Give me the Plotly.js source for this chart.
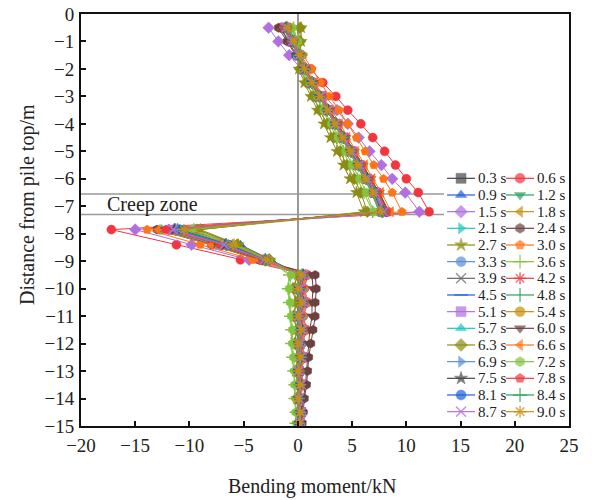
<!DOCTYPE html>
<html><head><meta charset="utf-8">
<script src="https://cdn.plot.ly/plotly-3.0.1.min.js"></script>
<style>html,body{margin:0;padding:0;background:#fff}#chart{width:592px;height:500px}</style>
</head><body><div id="chart"></div>
<script>
// Depth below pile top (m)
const depth = [-0.5,-1,-1.5,-2,-2.5,-3,-3.5,-4,-4.5,-5,-5.5,-6,-6.5,-7.2,-7.85,-8.4,-8.95,-9.5,-10,-10.5,-11,-11.5,-12,-12.5,-13,-13.5,-14,-14.5,-14.9];
const timeLabels = ['0.3 s','0.6 s','0.9 s','1.2 s','1.5 s','1.8 s','2.1 s','2.4 s','2.7 s','3.0 s','3.3 s','3.6 s','3.9 s','4.2 s','4.5 s','4.8 s','5.1 s','5.4 s','5.7 s','6.0 s','6.3 s','6.6 s','6.9 s','7.2 s','7.5 s','7.8 s','8.1 s','8.4 s','8.7 s','9.0 s'];
const xTicks = [-20,-15,-10,-5,0,5,10,15,20,25];
const yTicks = [0,-1,-2,-3,-4,-5,-6,-7,-8,-9,-10,-11,-12,-13,-14,-15];
const creepTop = -6.55, creepBottom = -7.3;

// Bending moment (kN) per time step
const m03 = [-1.2,-0.5,0.0,0.5,1.2,1.9,2.7,3.4,4.1,4.8,5.5,6.3,7.0,7.8,-11.2,-6.9,-3.1,0.5,0.2,0.5,0.1,0.4,0.2,0.4,0.1,0.3,0.2,0.3,0.2];
const m06 = [-1.6,-0.8,0.2,1.2,2.3,3.5,4.6,5.8,6.9,8.0,9.0,10.0,11.1,12.1,-17.2,-11.2,-5.3,0.9,0.6,0.9,0.5,0.8,0.4,0.6,0.3,0.5,0.2,0.4,0.3];
const m09 = [-1.0,-0.4,0.1,0.6,1.3,2.0,2.7,3.4,4.1,4.8,5.5,6.2,6.9,7.6,-10.4,-5.3,-2.5,0.3,-0.3,0.2,-0.2,0.1,-0.1,0.2,0.0,0.2,0.0,0.2,0.1];
const m12 = [-0.6,-0.1,0.3,0.7,1.4,2.1,2.7,3.4,4.1,4.8,5.5,6.2,6.8,7.5,-10.8,-6.2,-2.8,0.4,0.1,0.4,0.0,0.3,0.1,0.3,0.0,0.3,0.1,0.2,0.1];
const m15 = [-2.7,-1.8,-0.8,0.3,1.4,2.5,3.6,4.6,5.6,6.6,7.7,8.7,9.9,11.2,-15.0,-9.8,-4.5,0.7,0.5,0.8,0.4,0.7,0.3,0.6,0.3,0.5,0.2,0.4,0.2];
const m18 = [-0.9,-0.3,0.2,0.6,1.3,2.0,2.7,3.4,4.1,4.8,5.5,6.2,6.9,7.6,-9.2,-5.8,-2.9,0.2,-0.2,0.3,-0.1,0.2,0.0,0.3,0.1,0.2,0.0,0.2,0.1];
const m21 = [-1.3,-0.6,0.0,0.6,1.3,2.1,2.8,3.5,4.3,5.0,5.8,6.5,7.3,8.1,-12.4,-7.4,-3.3,0.6,0.3,0.6,0.2,0.5,0.2,0.4,0.1,0.3,0.1,0.3,0.2];
const m24 = [-1.8,-1.0,-0.2,0.6,1.4,2.1,2.9,3.7,4.4,5.2,6.0,6.7,7.5,8.4,-13.0,-8.0,-3.6,1.6,1.7,1.6,1.6,1.4,1.2,1.0,0.9,0.8,0.6,0.5,0.4];
const m27 = [0.3,0.3,0.2,0.1,0.6,1.2,1.8,2.4,3.0,3.6,4.2,4.8,5.4,6.1,-9.0,-5.5,-2.6,0.0,-0.5,-0.2,-0.4,-0.1,-0.3,0.0,-0.2,0.0,-0.1,0.1,0.0];
const m30 = [-1.4,-0.5,0.5,1.3,2.1,2.9,3.8,4.6,5.4,6.2,7.0,7.9,8.7,9.6,-13.9,-9.0,-4.2,0.8,0.6,0.9,0.5,0.7,0.4,0.6,0.3,0.4,0.2,0.3,0.2];
const m33 = [-0.8,-0.2,0.3,0.6,1.3,2.0,2.7,3.4,4.0,4.7,5.4,6.1,6.8,7.5,-10.6,-6.1,-2.9,0.3,0.0,0.3,-0.1,0.3,0.0,0.2,0.0,0.2,0.1,0.2,0.1];
const m36 = [-0.4,0.0,0.3,0.4,1.0,1.7,2.3,2.9,3.6,4.2,4.8,5.5,6.1,6.9,-9.6,-5.9,-2.7,-0.8,-0.9,-0.8,-0.7,-0.6,-0.6,-0.5,-0.4,-0.3,-0.3,-0.2,-0.2];
const m39 = [-1.1,-0.5,0.1,0.6,1.3,2.0,2.8,3.5,4.2,4.9,5.6,6.4,7.1,7.9,-11.6,-6.8,-3.1,0.5,0.2,0.5,0.1,0.4,0.2,0.4,0.1,0.3,0.1,0.3,0.2];
const m42 = [-1.2,-0.5,0.1,0.7,1.4,2.2,2.9,3.6,4.3,5.1,5.8,6.5,7.3,8.1,-11.9,-7.0,-3.2,0.5,0.3,0.6,0.2,0.5,0.2,0.4,0.1,0.3,0.2,0.3,0.2];
const m45 = [-0.9,-0.3,0.2,0.6,1.3,2.0,2.7,3.4,4.1,4.8,5.5,6.2,6.9,7.7,-10.9,-6.4,-2.9,0.4,0.0,0.4,0.0,0.3,0.0,0.3,0.0,0.2,0.0,0.2,0.1];
const m48 = [-1.0,-0.4,0.1,0.6,1.3,2.0,2.7,3.4,4.2,4.9,5.6,6.3,7.0,7.8,-11.3,-6.6,-3.0,0.4,0.1,0.4,0.0,0.3,0.1,0.3,0.1,0.2,0.1,0.2,0.1];
const m51 = [-1.2,-0.6,0.0,0.6,1.3,2.1,2.8,3.5,4.3,5.0,5.7,6.4,7.2,8.0,-11.7,-6.9,-3.1,0.5,0.3,0.5,0.2,0.4,0.2,0.4,0.1,0.3,0.1,0.3,0.2];
const m54 = [-1.0,-0.4,0.1,0.6,1.3,2.0,2.7,3.4,4.2,4.9,5.6,6.3,7.0,7.7,-11.0,-6.5,-3.0,0.5,0.2,0.4,0.1,0.4,0.1,0.3,0.1,0.3,0.1,0.2,0.2];
const m57 = [-1.4,-0.7,0.0,0.7,1.4,2.2,2.9,3.7,4.4,5.2,5.9,6.7,7.4,8.3,-12.6,-7.6,-3.4,0.7,0.4,0.7,0.3,0.6,0.3,0.5,0.2,0.4,0.2,0.3,0.2];
const m60 = [-1.6,-0.9,-0.1,0.6,1.4,2.1,2.9,3.7,4.4,5.2,6.0,6.7,7.5,8.3,-12.8,-7.8,-3.5,1.3,1.4,1.3,1.3,1.1,1.0,0.9,0.8,0.7,0.5,0.4,0.3];
const m63 = [0.2,0.2,0.2,0.2,0.8,1.4,2.0,2.7,3.3,3.9,4.5,5.2,5.8,6.4,-9.3,-5.6,-2.6,0.0,-0.4,-0.1,-0.4,-0.1,-0.3,0.0,-0.2,0.0,-0.1,0.1,0.0];
const m66 = [-1.3,-0.6,0.1,0.8,1.6,2.3,3.1,3.9,4.6,5.4,6.2,6.9,7.7,8.6,-12.9,-8.0,-3.6,0.7,0.4,0.7,0.3,0.6,0.3,0.5,0.2,0.4,0.2,0.3,0.2];
const m69 = [-0.9,-0.3,0.2,0.6,1.3,2.0,2.7,3.4,4.1,4.8,5.5,6.2,6.9,7.6,-10.7,-6.2,-2.8,0.3,0.0,0.3,-0.1,0.2,0.0,0.2,0.0,0.2,0.0,0.2,0.1];
const m72 = [-0.5,0.0,0.3,0.5,1.1,1.8,2.4,3.1,3.7,4.4,5.0,5.7,6.3,7.0,-9.8,-6.0,-2.7,-0.6,-0.8,-0.7,-0.6,-0.5,-0.5,-0.4,-0.3,-0.3,-0.2,-0.2,-0.1];
const m75 = [-1.1,-0.5,0.1,0.6,1.3,2.0,2.8,3.5,4.2,4.9,5.6,6.4,7.1,7.9,-11.4,-6.7,-3.0,0.5,0.2,0.5,0.1,0.4,0.1,0.3,0.1,0.3,0.1,0.3,0.2];
const m78 = [-1.3,-0.6,0.1,0.7,1.4,2.2,2.9,3.7,4.4,5.1,5.9,6.6,7.4,8.2,-12.2,-7.2,-3.3,0.6,0.3,0.6,0.2,0.5,0.2,0.4,0.2,0.3,0.1,0.3,0.2];
const m81 = [-1.0,-0.4,0.1,0.6,1.3,2.0,2.7,3.4,4.2,4.9,5.6,6.3,7.0,7.7,-10.9,-6.4,-2.9,0.4,0.1,0.4,0.0,0.3,0.1,0.3,0.0,0.2,0.1,0.2,0.1];
const m84 = [-1.0,-0.4,0.1,0.6,1.3,2.0,2.7,3.5,4.2,4.9,5.6,6.3,7.1,7.8,-11.1,-6.6,-3.0,0.4,0.1,0.4,0.1,0.3,0.1,0.3,0.1,0.2,0.1,0.2,0.1];
const m87 = [-1.1,-0.5,0.1,0.6,1.3,2.1,2.8,3.5,4.2,5.0,5.7,6.4,7.1,7.9,-11.5,-6.8,-3.1,0.5,0.2,0.5,0.1,0.4,0.2,0.3,0.1,0.3,0.1,0.3,0.2];
const m90 = [-0.9,-0.3,0.2,0.6,1.3,2.0,2.7,3.4,4.1,4.8,5.5,6.2,6.9,7.6,-10.5,-6.0,-2.8,0.3,0.0,0.3,0.0,0.3,0.0,0.2,0.0,0.2,0.0,0.2,0.1];

const series = [m03,m06,m09,m12,m15,m18,m21,m24,m27,m30,m33,m36,m39,m42,m45,m48,m51,m54,m57,m60,m63,m66,m69,m72,m75,m78,m81,m84,m87,m90];

// styles
const FONT = 'Liberation Serif';
const palette = ['#454545','#f0363e','#1f5fdc','#28a060','#b070e0','#c8900c','#22c4c4','#6e4040','#8c8c14','#ff7414','#5b8fd6','#84c440'];
const symbolCycle = ['square','circle','triangle-up','triangle-down','diamond','triangle-left','triangle-right','hexagon','star','pentagon','circle','cross-thin','x-thin','asterisk','line-ew','line-ns'];
const thin = new Set(['cross-thin','x-thin','asterisk','line-ew','line-ns']);

const traces = [];
const annotations = [];
series.forEach((vals, i) => {
  const color = i === 12 ? '#666666' : palette[i % palette.length];
  const sym = symbolCycle[i % symbolCycle.length];
  const isThin = thin.has(sym);
  traces.push({
    type: 'scatter', mode: 'lines+markers', x: vals, y: depth, name: timeLabels[i],
    xaxis: 'x', yaxis: 'y',
    line: {color: color, width: 1},
    marker: {symbol: sym, size: 9, color: color,
             line: {color: color, width: isThin ? 1.5 : 0.5}},
    hoverinfo: 'skip'
  });
});
// legend (two columns) drawn on an overlay axis
series.forEach((vals, i) => {
  const color = i === 12 ? '#666666' : palette[i % palette.length];
  const sym = symbolCycle[i % symbolCycle.length];
  const isThin = thin.has(sym);
  const col = i % 2, row = Math.floor(i / 2);
  const x0 = col === 0 ? 3 : 62;
  traces.push({
    type: 'scatter', mode: 'lines+markers', x: [x0, x0 + 14, x0 + 28], y: [row, row, row],
    xaxis: 'x2', yaxis: 'y2', showlegend: false, hoverinfo: 'skip',
    line: {color: color, width: 1.2},
    marker: {symbol: sym, size: [0, 10, 0], color: color,
             line: {color: color, width: isThin ? 1.5 : 0.5}}
  });
  annotations.push({
    xref: 'x2', yref: 'y2', x: x0 + 29, y: row, xanchor: 'left', yanchor: 'middle',
    text: timeLabels[i], showarrow: false, font: {family: FONT, size: 15, color: '#222'}
  });
});
annotations.push({
  xref: 'x', yref: 'y', x: -17.8, y: (creepTop + creepBottom) / 2, xanchor: 'left', yanchor: 'middle',
  text: 'Creep zone', showarrow: false, font: {family: FONT, size: 20, color: '#222'}
});
// axis titles
annotations.push({
  xref: 'paper', yref: 'paper', x: (312 - 81) / 488, y: -(486 - 426) / 412, xanchor: 'center', yanchor: 'middle',
  text: 'Bending moment/kN', showarrow: false, font: {family: FONT, size: 20, color: '#222'}
});
annotations.push({
  xref: 'paper', yref: 'paper', x: (27 - 81) / 488, y: (426 - 205) / 412, xanchor: 'center', yanchor: 'middle',
  text: 'Distance from pile top/m', textangle: -90, showarrow: false, font: {family: FONT, size: 20, color: '#222'}
});

const layout = {
  width: 592, height: 500,
  margin: {l: 81, r: 23, t: 14, b: 74},
  paper_bgcolor: '#ffffff', plot_bgcolor: '#ffffff',
  font: {family: FONT, size: 19, color: '#222'},
  showlegend: false,
  xaxis: {
    range: [-20, 25], tickvals: xTicks,
    showline: true, linecolor: '#111', linewidth: 2, mirror: true,
    ticks: 'inside', ticklen: 5, tickwidth: 1.5, tickcolor: '#111',
    showgrid: false, tickfont: {family: FONT, size: 19, color: '#222'},
    zeroline: true, zerolinecolor: '#9a9a9a', zerolinewidth: 1.5,
    ticklabelstandoff: 1
  },
  yaxis: {
    range: [-15, 0], tickvals: yTicks,
    showline: true, linecolor: '#111', linewidth: 2, mirror: true,
    ticks: 'inside', ticklen: 5, tickwidth: 1.5, tickcolor: '#111',
    showgrid: false, tickfont: {family: FONT, size: 19, color: '#222'},
    zeroline: false,
    ticklabelstandoff: 1
  },
  xaxis2: {domain: [0.744, 1], range: [0, 125], visible: false, fixedrange: true, anchor: 'y2'},
  yaxis2: {domain: [0.0146, 0.6214], range: [14.5, -0.5], visible: false, fixedrange: true, anchor: 'x2'},
  shapes: [
    {type: 'line', xref: 'paper', yref: 'y', x0: 0, x1: 0.744, y0: creepTop, y1: creepTop, line: {color: '#9a9a9a', width: 1.5}, layer: 'below'},
    {type: 'line', xref: 'paper', yref: 'y', x0: 0, x1: 0.744, y0: creepBottom, y1: creepBottom, line: {color: '#9a9a9a', width: 1.5}, layer: 'below'}
  ],
  annotations: annotations
};
Plotly.newPlot('chart', traces, layout, {displayModeBar: false});
</script>
</body></html>
